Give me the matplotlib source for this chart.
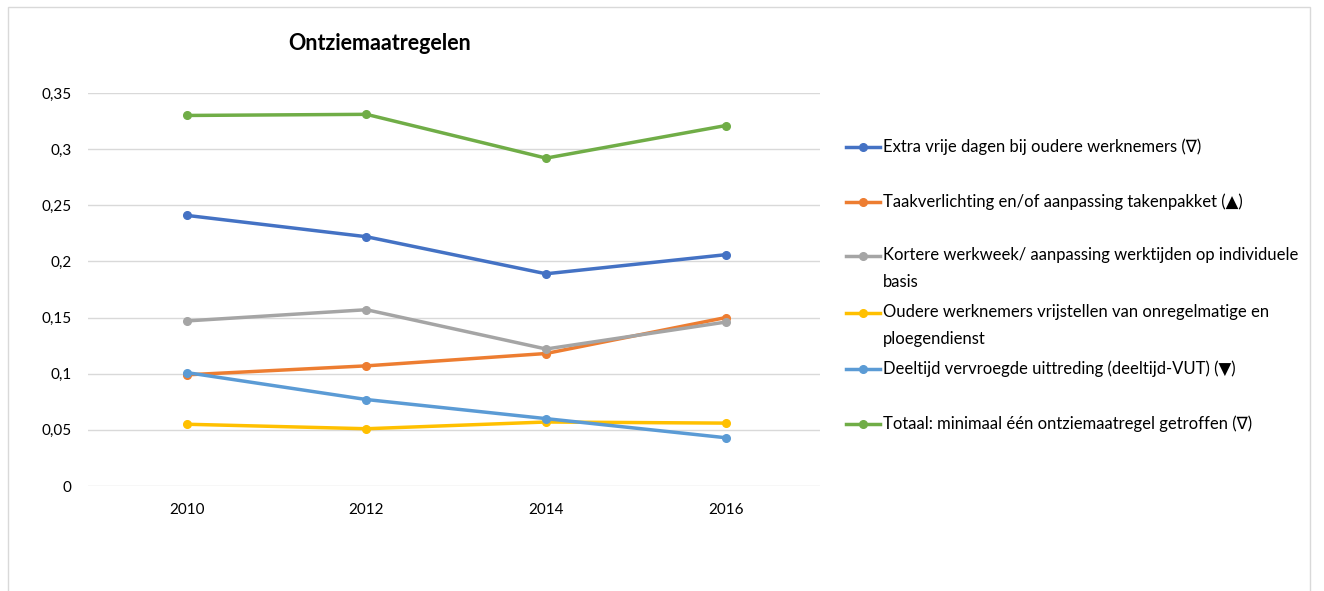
import matplotlib.pyplot as plt
from matplotlib.lines import Line2D
from matplotlib.patches import Rectangle

# ---------------------------------------------------------------------------
# Data
# ---------------------------------------------------------------------------
years = [2010, 2012, 2014, 2016]

extra_vrije_dagen = [0.241, 0.222, 0.189, 0.206]
taakverlichting = [0.099, 0.107, 0.118, 0.150]
kortere_werkweek = [0.147, 0.157, 0.122, 0.146]
vrijstellen_ploeg = [0.055, 0.051, 0.057, 0.056]
deeltijd_vut = [0.101, 0.077, 0.060, 0.043]
totaal = [0.330, 0.331, 0.292, 0.321]

labels = [
    "Extra vrije dagen bij oudere werknemers (\u2207)",
    "Taakverlichting en/of aanpassing takenpakket (\u25B2)",
    "Kortere werkweek/ aanpassing werktijden op individuele\nbasis",
    "Oudere werknemers vrijstellen van onregelmatige en\nploegendienst",
    "Deeltijd vervroegde uittreding (deeltijd-VUT) (\u25BC)",
    "Totaal: minimaal \u00e9\u00e9n ontziemaatregel getroffen (\u2207)",
]
series = [extra_vrije_dagen, taakverlichting, kortere_werkweek,
          vrijstellen_ploeg, deeltijd_vut, totaal]
colors = ["#4472C4", "#ED7D31", "#A5A5A5", "#FFC000", "#5B9BD5", "#70AD47"]

y_ticks = [0, 0.05, 0.1, 0.15, 0.2, 0.25, 0.3, 0.35]
y_ticklabels = ["0", "0,05", "0,1", "0,15", "0,2", "0,25", "0,3", "0,35"]

# ---------------------------------------------------------------------------
# Figure
# ---------------------------------------------------------------------------
plt.rcParams["font.family"] = ["Lato", "DejaVu Sans"]
W, H = 1324, 591
fig = plt.figure(figsize=(W / 100, H / 100), dpi=100, facecolor="white")

# chart-area border
fig.patches.append(Rectangle((8 / W, -0.01), (1310 - 8) / W, 1 - 7 / H + 0.01,
                             transform=fig.transFigure, fill=False,
                             edgecolor="#D9D9D9", linewidth=1))

ax = fig.add_axes([88 / W, 1 - 486 / H, (820 - 88) / W, (486 - 93) / H])

for vals, col in zip(series, colors):
    ax.plot(years, vals, color=col, linewidth=2.5, marker="o",
            markersize=5.5, solid_capstyle="round", zorder=3)

ax.set_ylim(0, 0.35)
ax.set_xlim(2008.9, 2017.05)
ax.set_yticks(y_ticks)
ax.set_yticklabels(y_ticklabels)
ax.set_xticks(years)
ax.set_xticklabels([str(y) for y in years])
ax.grid(axis="y", color="#D9D9D9", linewidth=1)
ax.set_axisbelow(True)
for s in ax.spines.values():
    s.set_visible(False)
ax.tick_params(axis="both", length=0, labelsize=11, labelcolor="black")
ax.tick_params(axis="y", pad=12)
ax.tick_params(axis="x", pad=12)

fig.text(380 / W, 1 - 44 / H, "Ontziemaatregelen", ha="center", va="center",
         fontsize=15.5, fontweight="bold")

# legend (Excel style: marker line + top-aligned wrapped text)
first_line_y = [147, 202, 256, 313, 369, 424]
for lab, col, yy in zip(labels, colors, first_line_y):
    yf = 1 - yy / H
    fig.add_artist(Line2D([846 / W, 880 / W], [yf, yf], transform=fig.transFigure,
                          color=col, linewidth=2.5))
    fig.add_artist(Line2D([863 / W], [yf], transform=fig.transFigure,
                          color=col, marker="o", markersize=5.5, linestyle="none"))
    fig.text(883 / W, yf + 9 / H, lab, ha="left", va="top", fontsize=12,
             linespacing=1.85)

fig.savefig("out.png", dpi=100, facecolor="white")
